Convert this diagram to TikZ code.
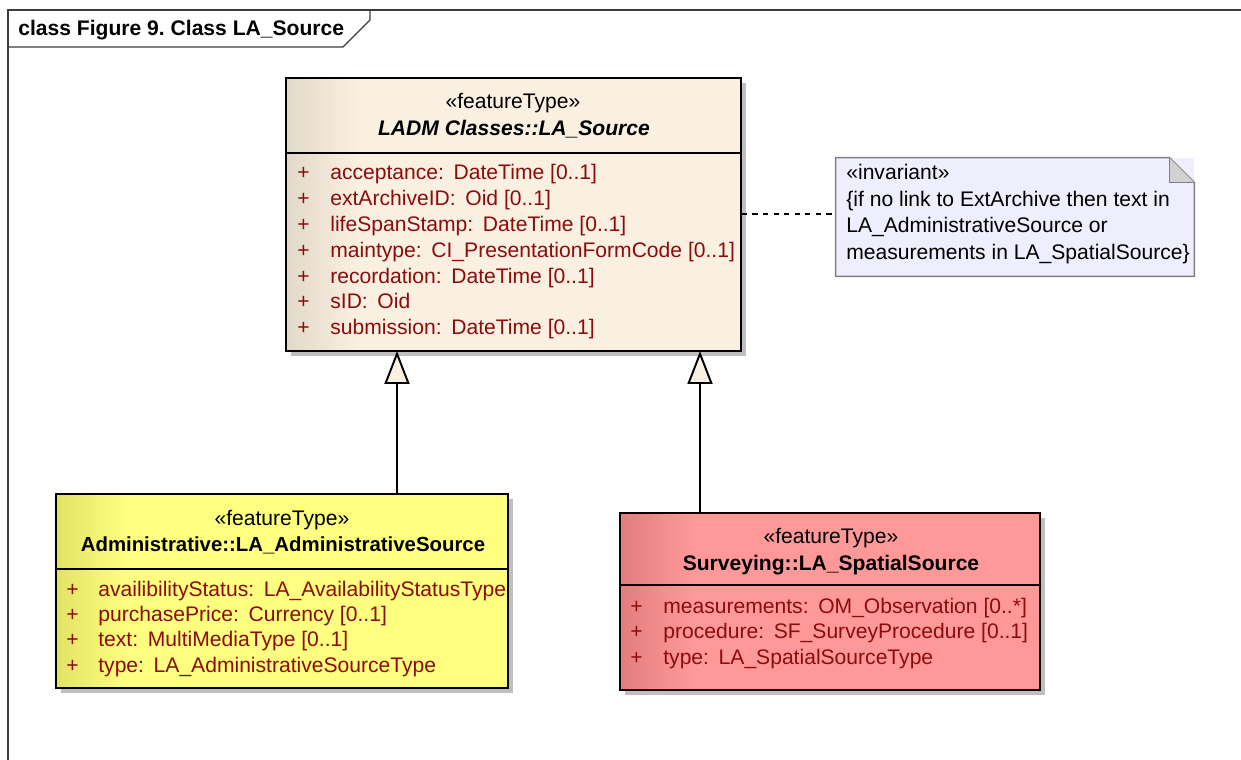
\documentclass[tikz,border=0pt]{standalone}
\usepackage{fontspec}
\setmainfont{Liberation Sans}
\usetikzlibrary{arrows.meta,shadows}
\definecolor{srcfill}{RGB}{249,240,226}
\definecolor{srcdark}{RGB}{226,217,202}
\definecolor{admfill}{RGB}{255,255,128}
\definecolor{admdark}{RGB}{228,228,100}
\definecolor{spafill}{RGB}{255,153,153}
\definecolor{spadark}{RGB}{228,126,126}
\definecolor{notefill}{RGB}{238,238,252}
\definecolor{attrred}{RGB}{140,12,12}
\definecolor{framegray}{RGB}{60,60,60}
\newcommand{\colsep}{:\hspace{5.5pt}}
\frenchspacing

\begin{document}
\begin{tikzpicture}[x=0.02cm,y=-0.02cm,font=\fontsize{12}{14}\selectfont]
\tikzstyle{every node}+=[inner sep=0pt]
\tikzset{
  classbox/.style 2 args={draw=black, line width=1.1pt, rectangle, fill=#2,
    drop shadow={shadow xshift=0.1cm, shadow yshift=-0.1cm, fill=black!25, opacity=1},
    path picture={\foreach \k in {0,...,13} {
        \pgfmathtruncatemacro{\mix}{100-\k*100/14}
        \fill [#1!\mix!#2] ([xshift=\k*0.1cm]path picture bounding box.north west)
          rectangle ([xshift=\k*0.1cm+0.11cm]path picture bounding box.south west);}}},
  stereo/.style={anchor=base},
  cname/.style={anchor=base, font=\fontsize{12}{14}\selectfont\bfseries},
  plus/.style={anchor=base west, text=attrred},
  attr/.style={anchor=base west, text=attrred},
  notetext/.style={anchor=base west, text=black},
  genline/.style={draw=black, line width=1.1pt, -{Triangle[width=0.5cm, length=0.66cm, fill=srcfill, line width=1.1pt]}},
  notelink/.style={draw=black, line width=0.7pt, dashed, dash pattern=on 3pt off 3pt}
}
\useasboundingbox (0,0) rectangle (1241,760);

% frame and title tab
\draw [framegray, line width=0.7pt] (8,760) -- (8,10) -- (1241,10);
\draw [framegray, line width=0.7pt] (8,47) -- (343,47) -- (370,20) -- (370,10);
\node [anchor=base west, font=\fontsize{12}{14}\selectfont\bfseries] (title) at (18,36) {class Figure 9. Class LA\_Source};

% LA_Source
\node [classbox={srcdark}{srcfill}, minimum width=9.1cm, minimum height=5.46cm] (src) at (513.5,214.5) {};
\draw [black, line width=1.1pt] (src.west |- 0,153) -- (src.east |- 0,153);
\node [stereo] (srcst) at (513,109) {«featureType»};
\node [cname, font=\fontsize{12}{14}\selectfont\bfseries\itshape] (srcnm) at (514,136) {LADM Classes::LA\_Source};
\foreach \a [count=\i] in {{acceptance\colsep DateTime [0..1]}, {extArchiveID\colsep Oid [0..1]},
    {lifeSpanStamp\colsep DateTime [0..1]}, {maintype\colsep CI\_PresentationFormCode [0..1]},
    {recordation\colsep DateTime [0..1]}, {sID\colsep Oid}, {submission\colsep DateTime [0..1]}} {
  \node [plus] (srcp\i) at (297,{180+25.8*(\i-1)}) {+};
  \node [attr] (srca\i) at (330,{180+25.8*(\i-1)}) {\a};
}

% LA_AdministrativeSource
\node [classbox={admdark}{admfill}, minimum width=9.04cm, minimum height=3.88cm] (adm) at (282,591) {};
\draw [black, line width=1.1pt] (adm.west |- 0,569) -- (adm.east |- 0,569);
\node [stereo] (admst) at (282,525) {«featureType»};
\node [cname, font=\fontsize{11.6}{14}\selectfont\bfseries] (admnm) at (283,551) {Administrative::LA\_AdministrativeSource};
\foreach \a [count=\i] in {{availibilityStatus\colsep LA\_AvailabilityStatusType}, {purchasePrice\colsep Currency [0..1]},
    {text\colsep MultiMediaType [0..1]}, {type\colsep LA\_AdministrativeSourceType}} {
  \node [plus] (admp\i) at (66,{596+25.4*(\i-1)}) {+};
  \node [attr] (adma\i) at (98,{596+25.4*(\i-1)}) {\a};
}

% LA_SpatialSource
\node [classbox={spadark}{spafill}, minimum width=8.4cm, minimum height=3.54cm] (spa) at (830,601.5) {};
\draw [black, line width=1.1pt] (spa.west |- 0,585) -- (spa.east |- 0,585);
\node [stereo] (spast) at (831,543) {«featureType»};
\node [cname] (spanm) at (831,570) {Surveying::LA\_SpatialSource};
\foreach \a [count=\i] in {{measurements\colsep OM\_Observation [0..*]}, {procedure\colsep SF\_SurveyProcedure [0..1]},
    {type\colsep LA\_SpatialSourceType}} {
  \node [plus] (spap\i) at (630,{613+25.6*(\i-1)}) {+};
  \node [attr] (spaa\i) at (663,{613+25.6*(\i-1)}) {\a};
}

% invariant note
\node [fill=notefill, minimum width=7.16cm, minimum height=2.36cm] (inv) at (1015,217) {};
\draw [black!50, line width=0.9pt] (inv.south west) -- (inv.north west) -- ([xshift=-0.5cm]inv.north east)
  -- ([yshift=-0.5cm]inv.north east) -- (inv.south east) -- cycle;
\fill [black!18] ([xshift=-0.5cm]inv.north east) -- ([yshift=-0.5cm]inv.north east) -- ([xshift=-0.5cm, yshift=-0.5cm]inv.north east) -- cycle;
\draw [black!50, line width=0.9pt] ([xshift=-0.5cm]inv.north east) -- ([xshift=-0.5cm, yshift=-0.5cm]inv.north east) -- ([yshift=-0.5cm]inv.north east);
\node [notetext] (inv1) at (846,180) {«invariant»};
\node [notetext] (inv2) at (846,207) {\{if no link to ExtArchive then text in};
\node [notetext] (inv3) at (846,233) {LA\_AdministrativeSource or};
\node [notetext] (inv4) at (846,260) {measurements in LA\_SpatialSource\}};

% connectors
\coordinate (tipA) at (397,351);
\coordinate (tipS) at (700,351);
\draw [genline] (adm.north -| tipA) -- (tipA);
\draw [genline] (spa.north -| tipS) -- (tipS);
\draw [notelink] (src.east |- 0,214) -- (inv.west |- 0,214);
\end{tikzpicture}
\end{document}
